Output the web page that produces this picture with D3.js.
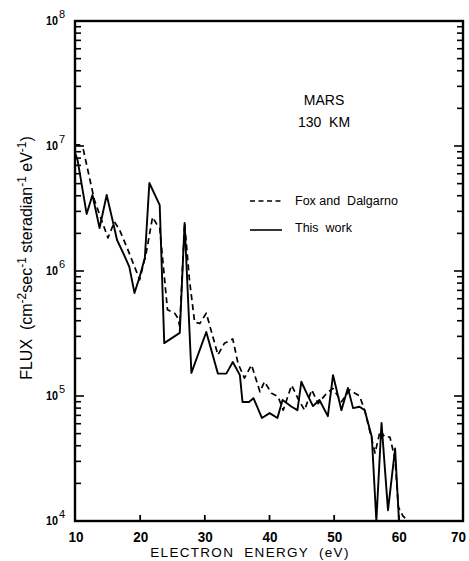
<!DOCTYPE html>
<html><head><meta charset="utf-8">
<script src="https://cdn.jsdelivr.net/npm/d3@7"></script>
<style>body{margin:0;background:#fff}svg{display:block}</style>
</head><body>
<script>
const xTicks = [10, 20, 30, 40, 50, 60, 70];
const yExponents = [4, 5, 6, 7, 8];
const titleLines = ["MARS", "130  KM"];
const legendLabels = ["Fox and  Dalgarno", "This  work"];

const energyThisWork = [10, 10.4, 11.8, 12.7, 13.8, 14.9, 15.8, 16.5, 17.6, 18.4, 19.2, 20.0, 20.8, 21.5, 23.1, 23.8, 26.2, 26.95, 28.0, 30.3, 32.1, 33.4, 34.4, 35.5, 35.9, 36.9, 37.6, 38.9, 40.1, 41.3, 42.1, 43.5, 44.4, 45.0, 45.8, 46.8, 47.8, 49.1, 49.9, 51.2, 52.2, 53.0, 54.0, 54.8, 55.9, 56.6, 57.4, 58.4, 59.5, 60.1];
const fluxThisWork = [8.8e6, 7.7e6, 2.86e6, 4.06e6, 2.21e6, 4.06e6, 2.56e6, 1.77e6, 1.34e6, 1.08e6, 6.67e5, 9.0e5, 1.27e6, 5.06e6, 3.37e6, 2.65e5, 3.2e5, 2.42e6, 1.53e5, 3.25e5, 1.51e5, 1.51e5, 1.87e5, 1.47e5, 8.96e4, 8.96e4, 9.6e4, 6.67e4, 7.3e4, 6.67e4, 9.3e4, 8.2e4, 7.7e4, 1.30e5, 1.06e5, 8.3e4, 9.3e4, 6.9e4, 1.47e5, 7.7e4, 1.16e5, 8.0e4, 8.2e4, 7.7e4, 4.7e4, 1.0e4, 6.1e4, 1.22e4, 3.8e4, 1.0e4];

const energyFox = [10, 10.7, 11.3, 12.2, 13.0, 14.1, 15.1, 16.1, 16.9, 18.2, 20.0, 21.0, 22.0, 22.6, 23.1, 24.3, 25.4, 25.9, 26.2, 26.95, 27.7, 28.5, 29.3, 30.3, 32.1, 33.1, 34.4, 35.2, 36.2, 37.3, 38.6, 39.3, 40.4, 41.4, 42.2, 43.5, 44.5, 45.5, 46.6, 47.6, 48.9, 49.9, 51.2, 52.5, 53.3, 54.0, 54.8, 55.6, 56.4, 57.2, 57.9, 58.7, 59.5, 60.0, 60.7, 61.5];
const fluxFox = [1.02e7, 1.02e7, 9.3e6, 5.7e6, 3.7e6, 2.56e6, 1.84e6, 2.48e6, 2.13e6, 1.47e6, 8.5e5, 1.39e6, 2.7e6, 2.39e6, 2.21e6, 4.9e5, 4.6e5, 4.2e5, 3.6e5, 2.42e6, 8.5e5, 3.9e5, 3.8e5, 4.6e5, 2.13e5, 2.64e5, 2.86e5, 1.83e5, 1.39e5, 1.77e5, 1.08e5, 1.30e5, 1.05e5, 9.9e4, 7.7e4, 1.22e5, 9.5e4, 7.7e4, 1.12e5, 8.7e4, 1.05e5, 1.15e5, 9.0e4, 1.12e5, 1.05e5, 1.0e5, 7.7e4, 5.2e4, 3.5e4, 5.3e4, 4.7e4, 4.7e4, 3.1e4, 1.3e4, 1.1e4, 1.0e4];

const W = 469, H = 561;
const L = 75, R = 463, T = 21, B = 521;
const font = "'Liberation Sans', Arial, sans-serif";

const svg = d3.select("body").append("svg").attr("width", W).attr("height", H)
  .style("font-family", font);

const x = d3.scaleLinear().domain([10, 70]).range([L, R]);
const y = d3.scaleLog().domain([1e4, 1e8]).range([B, T]);

const logTicks = [];
for (let e = 4; e < 8; e++) for (let m = 1; m < 10; m++) logTicks.push(m * Math.pow(10, e));
logTicks.push(1e8);
const isMajor = d => Math.abs(Math.log10(d) - Math.round(Math.log10(d))) < 1e-9;

// left axis ticks (inward)
const gL = svg.append("g").attr("transform", `translate(${L},0)`);
gL.selectAll("line").data(logTicks).join("line")
  .attr("x1", 0).attr("x2", d => isMajor(d) ? 9 : 6)
  .attr("y1", d => y(d)).attr("y2", d => y(d))
  .attr("stroke", "#000").attr("stroke-width", 1.6);
// right axis ticks (inward)
const gR = svg.append("g").attr("transform", `translate(${R},0)`);
gR.selectAll("line").data(logTicks).join("line")
  .attr("x1", 0).attr("x2", d => isMajor(d) ? -9 : -6)
  .attr("y1", d => y(d)).attr("y2", d => y(d))
  .attr("stroke", "#000").attr("stroke-width", 1.6);

// bottom ticks (inward)
const xAxis = d3.axisTop(x).tickValues(xTicks.slice(1, -1)).tickSize(6).tickFormat("").tickSizeOuter(0);
svg.append("g").attr("transform", `translate(0,${B})`).call(xAxis)
  .call(g => g.select(".domain").remove())
  .call(g => g.selectAll("line").attr("stroke-width", 1.8));

// frame
svg.append("rect").attr("x", L).attr("y", T).attr("width", R - L).attr("height", B - T)
  .attr("fill", "none").attr("stroke", "#000").attr("stroke-width", 2.4);

// x tick labels
svg.append("g").selectAll("text").data(xTicks).join("text")
  .attr("x", d => d === 70 ? 466 : x(d) + 1).attr("y", 542)
  .attr("text-anchor", d => d === 70 ? "end" : "middle")
  .attr("font-size", 15).attr("font-weight", "bold")
  .attr("textLength", 15).attr("lengthAdjust", "spacingAndGlyphs")
  .text(d => d);

// y tick labels: base "10" and separate exponent
const yg = svg.append("g");
yg.selectAll("text.base").data(yExponents).join("text").attr("class", "base")
  .attr("x", 58).attr("y", d => y(Math.pow(10, d)) + 4).attr("text-anchor", "end")
  .attr("font-size", 13).attr("font-weight", "bold")
  .attr("textLength", 12).attr("lengthAdjust", "spacingAndGlyphs").text("10");
yg.selectAll("text.exp").data(yExponents).join("text").attr("class", "exp")
  .attr("x", 59).attr("y", d => y(Math.pow(10, d)) - 3)
  .attr("font-size", 11).text(d => d);

// axis titles
svg.append("text").attr("x", 250).attr("y", 557).attr("text-anchor", "middle")
  .attr("font-size", 13.5).attr("letter-spacing", 1.3).text("ELECTRON  ENERGY  (eV)")
  .style("white-space", "pre");

const yt = svg.append("text").attr("transform", "translate(32,258) rotate(-90)")
  .attr("text-anchor", "middle").attr("font-size", 16)
  .style("white-space", "pre");
yt.append("tspan").text("FLUX  (cm");
yt.append("tspan").attr("dy", -6).attr("font-size", 12).text("-2");
yt.append("tspan").attr("dy", 6).text("sec");
yt.append("tspan").attr("dy", -6).attr("font-size", 12).text("-1");
yt.append("tspan").attr("dy", 6).text(" steradian");
yt.append("tspan").attr("dy", -6).attr("font-size", 12).text("-1");
yt.append("tspan").attr("dy", 6).text(" eV");
yt.append("tspan").attr("dy", -6).attr("font-size", 12).text("-1");
yt.append("tspan").attr("dy", 6).text(")");

// data lines
svg.append("clipPath").attr("id", "clip").append("rect")
  .attr("x", L).attr("y", T).attr("width", R - L).attr("height", B - T);
const line = d3.line().x(d => x(d[0])).y(d => y(d[1]));
const fox = energyFox.map((e, i) => [e, fluxFox[i]]);
const tw = energyThisWork.map((e, i) => [e, fluxThisWork[i]]);

svg.append("path").datum(fox).attr("d", line).attr("clip-path", "url(#clip)")
  .attr("fill", "none").attr("stroke", "#000").attr("stroke-width", 1.7)
  .attr("stroke-dasharray", "6,4").attr("stroke-linejoin", "round");
svg.append("path").datum(tw).attr("d", line).attr("clip-path", "url(#clip)")
  .attr("fill", "none").attr("stroke", "#000").attr("stroke-width", 1.9)
  .attr("stroke-linejoin", "round");

// title
svg.append("g").selectAll("text").data(titleLines).join("text")
  .attr("x", 324).attr("y", (d, i) => 105 + i * 22).attr("text-anchor", "middle")
  .attr("font-size", 14).style("white-space", "pre").text(d => d);

// legend
const leg = svg.append("g");
[0, 1].forEach(i => {
  const yy = 201 + i * 29;
  leg.append("line").attr("x1", 250).attr("x2", 282).attr("y1", yy).attr("y2", yy)
    .attr("stroke", "#000").attr("stroke-width", 1.6)
    .attr("stroke-dasharray", i === 0 ? "5,3.5" : null);
  leg.append("text").attr("x", 295).attr("y", yy + 4 - i * 2).attr("font-size", 12.5)
    .style("white-space", "pre").text(legendLabels[i]);
});
</script>
</body></html>
